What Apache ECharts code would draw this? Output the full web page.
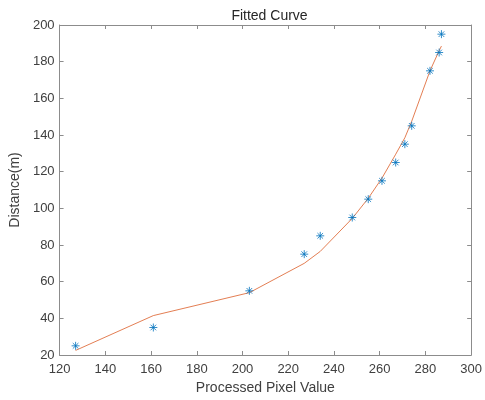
<!doctype html>
<html>
<head>
<meta charset="utf-8">
<script src="https://cdn.jsdelivr.net/npm/echarts@6/dist/echarts.min.js"></script>
</head>
<body style="margin:0">
<div id="main" style="width:485px;height:400px;"></div>
<script type="text/javascript">
    // measured points
    var pixelValues = [127, 161, 203, 227, 234, 248, 255, 261, 267, 271, 274, 282, 286, 287];
    var distances = [25, 35, 55, 75, 85, 95, 105, 115, 125, 135, 145, 175, 185, 195];
    // fitted curve evaluated at the same x values
    var fitX = [127, 161, 203, 227, 234, 248, 255, 261, 267, 271, 274, 282, 286, 287];
    var fitY = [22.5, 41.5, 54, 70, 76.5, 94.5, 105.5, 116.5, 129.5, 138.5, 147.5, 175, 186, 188.5];
    var xTicks = [120, 140, 160, 180, 200, 220, 240, 260, 280, 300];
    var yTicks = [20, 40, 60, 80, 100, 120, 140, 160, 180, 200];

    var fontName = 'Liberation Sans';
    var axisGray = '#8c8c8c';
    var textGray = '#404040';

    var myChart = echarts.init(document.getElementById('main'));

    function axisBase(min, max, step, showLabel) {
        return {
            type: 'value',
            min: min,
            max: max,
            interval: step,
            axisLine: { show: true, lineStyle: { color: axisGray, width: 1 } },
            axisTick: { show: true, inside: true, length: 4, lineStyle: { color: axisGray } },
            axisLabel: { show: showLabel, color: textGray, fontFamily: fontName, fontSize: 13 },
            splitLine: { show: false }
        };
    }

    var x0 = axisBase(xTicks[0], xTicks[xTicks.length - 1], xTicks[1] - xTicks[0], true);
    x0.position = 'bottom';
    x0.axisLabel.margin = 8;
    x0.name = 'Processed Pixel Value';
    x0.nameLocation = 'middle';
    x0.nameGap = 26;
    x0.nameTextStyle = { color: textGray, fontFamily: fontName, fontSize: 14 };
    var x1 = axisBase(xTicks[0], xTicks[xTicks.length - 1], xTicks[1] - xTicks[0], false);
    x1.position = 'top';

    var y0 = axisBase(yTicks[0], yTicks[yTicks.length - 1], yTicks[1] - yTicks[0], true);
    y0.position = 'left';
    y0.axisLabel.margin = 5;
    y0.name = 'Distance(m)';
    y0.nameLocation = 'middle';
    y0.nameGap = 33;
    y0.nameTextStyle = { color: textGray, fontFamily: fontName, fontSize: 14 };
    var y1 = axisBase(yTicks[0], yTicks[yTicks.length - 1], yTicks[1] - yTicks[0], false);
    y1.position = 'right';

    var option = {
        animation: false,
        title: {
            text: 'Fitted Curve',
            left: 264.5,
            textAlign: 'center',
            top: 4,
            textStyle: { color: '#262626', fontFamily: fontName, fontSize: 14, fontWeight: 'normal' }
        },
        grid: { left: 54, right: 10, top: 25, bottom: 42 },
        xAxis: [x0, x1],
        yAxis: [y0, y1],
        series: [
            {
                name: 'fit',
                type: 'line',
                data: fitX.map(function (x, i) { return [x, fitY[i]]; }),
                showSymbol: false,
                symbol: 'none',
                lineStyle: { color: '#D95319', width: 1, opacity: 0.75 },
                z: 2
            },
            {
                name: 'data',
                type: 'scatter',
                data: pixelValues.map(function (x, i) { return [x, distances[i]]; }),
                symbol: 'path://M5,0L5,10M0,5L10,5M1.5,1.5L8.5,8.5M1.5,8.5L8.5,1.5',
                symbolSize: 8,
                itemStyle: { color: 'none', borderColor: '#0072BD', borderWidth: 1 },
                z: 3
            }
        ]
    };

    myChart.setOption(option);
</script>
</body>
</html>
